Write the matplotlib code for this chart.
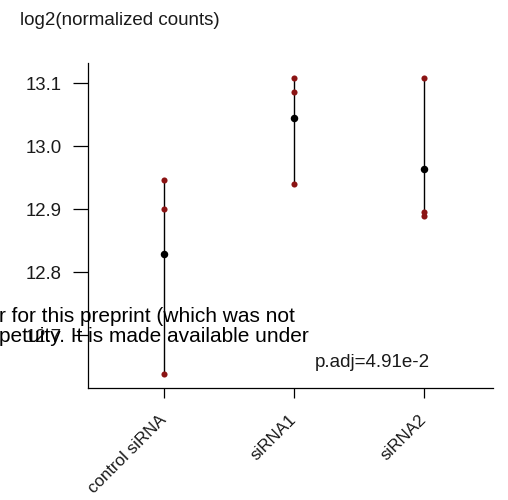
import matplotlib
matplotlib.use("Agg")
import matplotlib.pyplot as plt
from matplotlib.transforms import ScaledTranslation
import numpy as np

plt.rcParams["font.family"] = ["Liberation Sans", "DejaVu Sans"]

GROUPS = ["control siRNA", "siRNA1", "siRNA2"]
REPLICATES = [
    [12.946, 12.900, 12.638],
    [13.108, 13.086, 12.940],
    [13.108, 12.895, 12.889],
]
Y_TICKS = [12.7, 12.8, 12.9, 13.0, 13.1]
P_ADJ = "p.adj=4.91e-2"
WATERMARK = ["r for this preprint (which was not",
             "petuity. It is made available under"]

RED = "#8b1414"
TXT = "#1a1a1a"

fig = plt.figure(figsize=(5.08, 5.0), dpi=100)
ax = fig.add_axes([0.173, 0.224, 0.797, 0.65])

for i, vals in enumerate(REPLICATES, start=1):
    vals = np.array(vals)
    ax.plot([i, i], [vals.min(), vals.max()], color="black", lw=1.0, zorder=1)
    ax.plot([i] * len(vals), vals, "o", color=RED, ms=4.4, mew=0, zorder=2)
    ax.plot(i, vals.mean(), "o", color="black", ms=5.4, mew=0, zorder=3)

ax.set_xlim(0.415, 3.53)
ax.set_ylim(12.616, 13.132)
ax.set_xticks(range(1, len(GROUPS) + 1))
ax.set_xticklabels(GROUPS, rotation=45, ha="right", va="center",
                   rotation_mode="anchor", fontsize=12.2, color=TXT)
shift = ScaledTranslation(14 / 100, 0, fig.dpi_scale_trans)
for lab in ax.get_xticklabels():
    lab.set_transform(lab.get_transform() + shift)
ax.set_yticks(Y_TICKS)
ax.set_yticklabels([f"{v:.1f}" for v in Y_TICKS], fontsize=13.4, color=TXT)
ax.tick_params(axis="y", length=11, width=0.9, pad=8)
ax.tick_params(axis="x", length=7, width=0.9, pad=14)
for s in ("top", "right"):
    ax.spines[s].set_visible(False)
for s in ("left", "bottom"):
    ax.spines[s].set_linewidth(0.9)

ax.text(2.60, 12.649, P_ADJ, ha="center", va="baseline", fontsize=13.5,
        color=TXT)

fig.text(0.04, 0.976, "log2(normalized counts)", ha="left", va="top",
         fontsize=13.5, color=TXT)

# preprint watermark bleeding into the figure
fig.text(-0.002, 1 - 322 / 500, WATERMARK[0], ha="left", va="baseline",
         fontsize=15, color="black")
fig.text(-0.002, 1 - 342 / 500, WATERMARK[1], ha="left", va="baseline",
         fontsize=15, color="black")

fig.savefig("out.png", dpi=100)
